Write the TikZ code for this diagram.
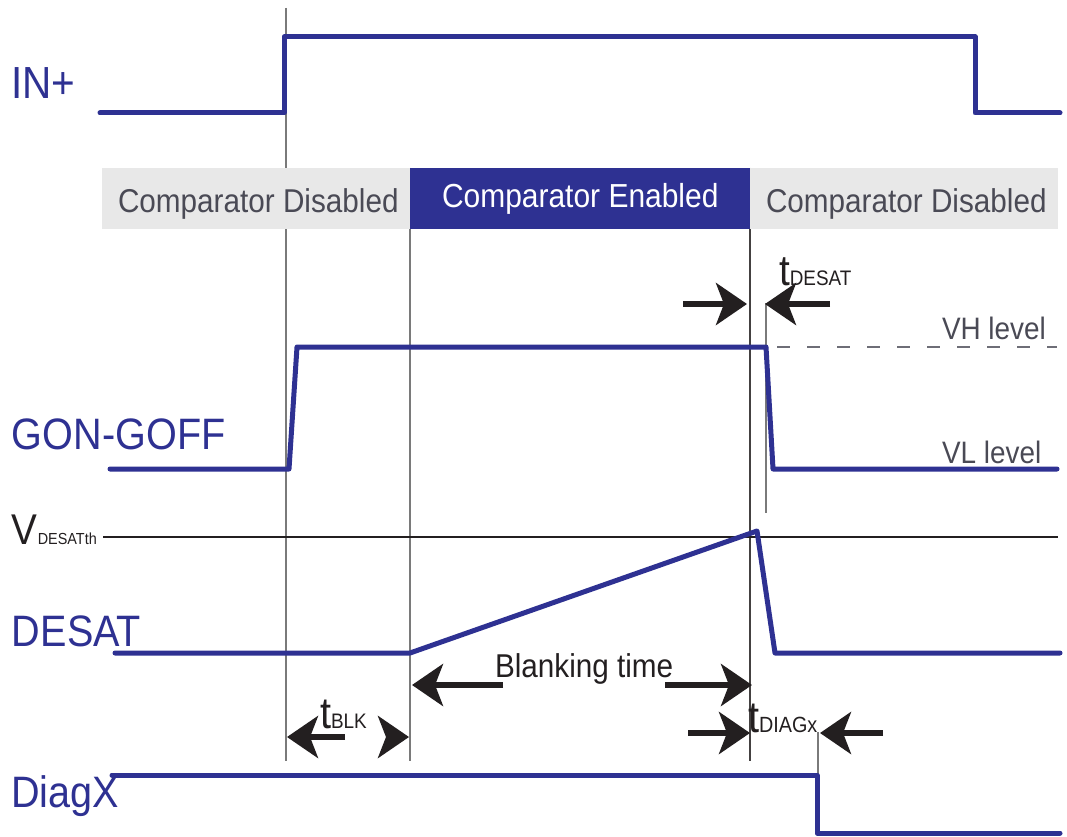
\documentclass[tikz,border=0pt]{standalone}
\usepackage{fontspec}
\setmainfont{Liberation Sans}[FakeStretch=0.9]
\usetikzlibrary{arrows.meta}
\definecolor{wblue}{HTML}{2E3192}
\definecolor{boxgray}{HTML}{E8E8E8}
\definecolor{txtgray}{HTML}{4A4A55}
\definecolor{guide}{HTML}{7A7A7A}
\definecolor{ink}{HTML}{231F20}
\newcommand\fsz[1]{\fontsize{#1}{#1}\selectfont}
\tikzset{
  wave/.style={draw=wblue, line width=5pt, line cap=round, line join=round},
  guideline/.style={draw=guide, line width=1.4pt},
  darkguide/.style={draw=ink!85, line width=1.2pt},
  lbl/.style={anchor=base west, inner sep=0pt, outer sep=0pt},
  siglbl/.style={lbl, text=wblue},
  bigarrow/.style={draw=ink, line width=5.5pt, -{Stealth[length=31pt,width=42pt,inset=8pt]}},
  graybox/.style={fill=boxgray, draw=none},
  bluebox/.style={fill=wblue, draw=none},
}
\begin{document}
\begin{tikzpicture}[x=1pt,y=-1pt]
\useasboundingbox (0,0) rectangle (1067,837);
\fill[white] (0,0) rectangle (1067,837);

% guide lines
\draw[guideline] (286,8) -- (286,761);
\draw[guideline] (410,168) -- (410,761);
\draw[darkguide] (750,168) -- (750,761);
\draw[guideline] (766,303) -- (766,513);
\draw[guideline] (818,732) -- (818,775);

% comparator boxes
\fill[graybox] (102,168) rectangle (410,229);
\fill[bluebox] (410,168) rectangle (750,229);
\fill[graybox] (750,168) rectangle (1058,229);
\node[lbl, text=txtgray] (cd1) at (118,212) {\fsz{33}Comparator Disabled};
\node[lbl, text=white] (ce) at (442,207) {\fsz{33.3}Comparator Enabled};
\node[lbl, text=txtgray] (cd2) at (766,212) {\fsz{33}Comparator Disabled};

% IN+
\node[siglbl] (inp) at (11,99) {\fsz{45}IN+};
\draw[wave] (100,113) -- (284,113) -- (284,37) -- (975,37) -- (975,113) -- (1060,113);

% GON-GOFF
\node[siglbl] (gon) at (12,449) {\fsz{44}GON-GOFF};
\draw[draw=txtgray!80, line width=1.5pt, dash pattern=on 13pt off 17pt] (777,347) -- (1057,347);
\draw[wave] (110,469) -- (289,469) -- (297,347) -- (766,347) -- (773,469) -- (1057,469);
\node[lbl, text=txtgray] (vh) at (942,339) {\fsz{31}VH level};
\node[lbl, text=txtgray] (vl) at (942,463) {\fsz{31}VL level};

% tDESAT
\node[lbl, text=ink] (tdesat) at (779,285) {\fsz{43}t\fsz{21}DESAT};
\coordinate (td1s) at (683,304); \coordinate (td1e) at (747,304);
\coordinate (td2s) at (830,304); \coordinate (td2e) at (765,304);
\draw[bigarrow] (td1s) -- (td1e);
\draw[bigarrow] (td2s) -- (td2e);

% VDESATth
\node[lbl, text=ink] (vth) at (12,544) {\fsz{43}V\fsz{16}DESATth};
\draw[draw=ink, line width=2pt] (103,537) -- (1058,537);

% DESAT
\node[siglbl] (desat) at (12,646) {\fsz{44}DESAT};
\draw[wave] (115,653) -- (410,653) -- (757,531) -- (775,653) -- (1060,653);

% Blanking time
\node[lbl, text=ink] (blank) at (495,677) {\fsz{33}Blanking time};
\coordinate (b1s) at (503,685); \coordinate (b1e) at (412,685);
\coordinate (b2s) at (665,685); \coordinate (b2e) at (752,685);
\draw[bigarrow] (b1s) -- (b1e);
\draw[bigarrow] (b2s) -- (b2e);

% tBLK
\node[lbl, text=ink] (tblk) at (320,728) {\fsz{44}t\fsz{21}BLK};
\coordinate (k1s) at (345,737); \coordinate (k1e) at (287,737);
\coordinate (k2s) at (386.5,737); \coordinate (k2e) at (409,737);
\draw[bigarrow] (k1s) -- (k1e);
\draw[bigarrow] (k2s) -- (k2e);

% tDIAGx
\node[lbl, text=ink] (tdiag) at (748,732) {\fsz{44}t\fsz{22}DIAGx};
\coordinate (g1s) at (688,733); \coordinate (g1e) at (750,733);
\coordinate (g2s) at (883,733); \coordinate (g2e) at (820,733);
\draw[bigarrow] (g1s) -- (g1e);
\draw[bigarrow] (g2s) -- (g2e);

% DiagX
\node[siglbl] (diag) at (11,807) {\fsz{44}DiagX};
\draw[wave] (112,775) -- (817,775) -- (817,833) -- (1060,833);
\end{tikzpicture}
\end{document}
